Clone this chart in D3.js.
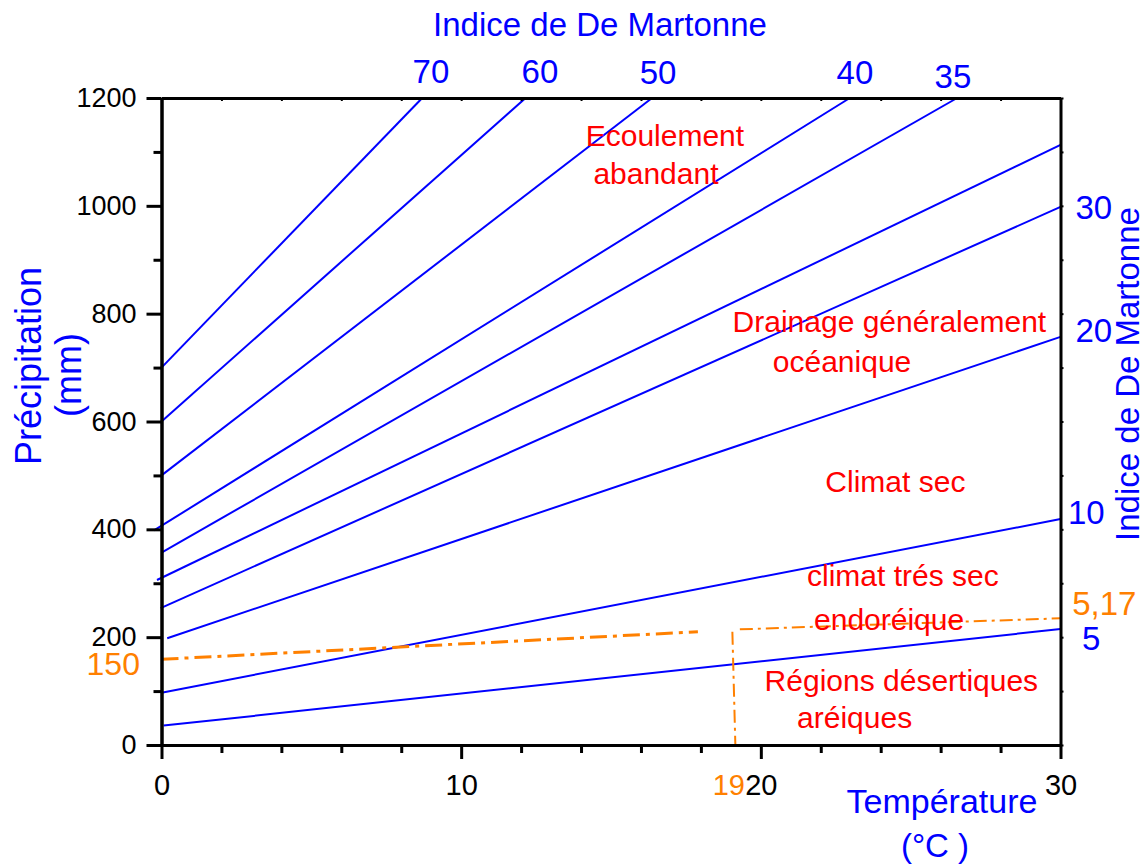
<!DOCTYPE html>
<html>
<head>
<meta charset="utf-8">
<script src="https://cdn.jsdelivr.net/npm/d3@7"></script>
<style>
  body { margin: 0; background: #fff; }
  svg text { font-family: "Liberation Sans", Arial, sans-serif; }
</style>
</head>
<body>
<div id="chart"></div>
<script>
// De Martonne iso-index lines (T in °C, P in mm)
const lineStartT = [0, 0, 0, -0.25, 0, -0.15, -0.03, 0.19, 0, 0.07];
const lineStartP = [700, 600, 500, 398, 357, 306, 254, 198, 97, 36];
const lineEndT = [8.70, 12.15, 16.37, 22.97, 26.55, 30, 30, 30, 30, 30];
const lineEndP = [1200, 1200, 1200, 1200, 1200, 1113, 998, 757, 419, 215];

// labels of the lines
const topLabels = ["70", "60", "50", "40", "35"];
const rightLabels = ["30", "20", "10", "5"];

// orange threshold (dash-dot)
const leftThreshT = [0, 17.9];
const leftThreshP = [159, 210];
const vertThreshT = [19.05, 19.15];
const vertThreshP = [210, 0];
const rightThreshT = [19.3, 30];
const rightThreshP = [214.5, 235];
const threshLabels = ["150", "19", "5,17"];

// zone names
const zoneLabels = [
  "Ecoulement", "abandant",
  "Drainage généralement", "océanique",
  "Climat sec",
  "climat trés sec", "endoréique",
  "Régions désertiques", "aréiques"
];

// axis ticks
const xMajor = [0, 10, 20, 30];
const xMinor = [2, 4, 6, 8, 12, 14, 16, 18, 22, 24, 26, 28];
const yMajor = [0, 200, 400, 600, 800, 1000, 1200];
const yMinor = [100, 300, 500, 700, 900, 1100];

const width = 1145, height = 865;
const blue = "#0000ff", red = "#ff0000", orange = "#ff8000";

const x = d3.scaleLinear().domain([0, 30]).range([161.5, 1060.5]);
const y = d3.scaleLinear().domain([0, 1200]).range([745, 98]);

const svg = d3.select("#chart").append("svg")
  .attr("width", width)
  .attr("height", height);

// iso-index lines
const isoLines = lineStartT.map((t, i) => [[t, lineStartP[i]], [lineEndT[i], lineEndP[i]]]);
const line = d3.line().x(d => x(d[0])).y(d => y(d[1]));

svg.append("g")
  .selectAll("path")
  .data(isoLines)
  .join("path")
  .attr("d", line)
  .attr("fill", "none")
  .attr("stroke", blue)
  .attr("stroke-width", 2);

// threshold lines
const thresholds = [
  { pts: leftThreshT.map((t, i) => [t, leftThreshP[i]]), w: 3, dash: "17,6,4,6" },
  { pts: vertThreshT.map((t, i) => [t, vertThreshP[i]]), w: 2, dash: "13,5,3,5" },
  { pts: rightThreshT.map((t, i) => [t, rightThreshP[i]]), w: 2, dash: "13,5,3,5" }
];
svg.append("g")
  .selectAll("path")
  .data(thresholds)
  .join("path")
  .attr("d", d => line(d.pts))
  .attr("fill", "none")
  .attr("stroke", orange)
  .attr("stroke-width", d => d.w)
  .attr("stroke-dasharray", d => d.dash);

// axes
const styleAxis = (g, size) => {
  g.select(".domain").attr("stroke", "#000").attr("stroke-width", 3);
  g.selectAll(".tick line").attr("stroke", "#000").attr("stroke-width", 3);
  g.selectAll(".tick text").attr("fill", "#000").attr("font-size", size || 27)
    .attr("font-family", "Liberation Sans, Arial, sans-serif");
};

svg.append("g")
  .attr("transform", `translate(0,${y(0)})`)
  .call(d3.axisBottom(x).tickValues(xMajor).tickSize(14).tickPadding(15).tickFormat(d3.format("d")).tickSizeOuter(0))
  .call(styleAxis, 29);
svg.append("g")
  .attr("transform", `translate(0,${y(0)})`)
  .call(d3.axisBottom(x).tickValues(xMinor).tickSize(8).tickFormat("").tickSizeOuter(0))
  .call(styleAxis);

svg.append("g")
  .attr("transform", `translate(${x(0)},0)`)
  .call(d3.axisLeft(y).tickValues(yMajor).tickSize(15).tickPadding(10).tickFormat(d3.format("d")).tickSizeOuter(0))
  .call(styleAxis, 27);
svg.append("g")
  .attr("transform", `translate(${x(0)},0)`)
  .call(d3.axisLeft(y).tickValues(yMinor).tickSize(8).tickFormat("").tickSizeOuter(0))
  .call(styleAxis);

// mirror axes (top / right) with small ticks
svg.append("g")
  .attr("transform", `translate(0,${y(1200)})`)
  .call(d3.axisBottom(x).tickValues(xMinor.concat(xMajor)).tickSize(3).tickFormat("").tickSizeOuter(0))
  .call(styleAxis)
  .call(g => g.selectAll(".tick line").attr("stroke-width", 2));
svg.append("g")
  .attr("transform", `translate(${x(30)},0)`)
  .call(d3.axisRight(y).tickValues(yMajor.concat(yMinor)).tickSize(3).tickFormat("").tickSizeOuter(0))
  .call(styleAxis)
  .call(g => g.selectAll(".tick line").attr("stroke-width", 2));

// top index labels (position in data units)
const topPos = [[8.99, 1228], [12.63, 1228], [16.57, 1226], [23.14, 1226], [26.41, 1218]];
svg.append("g")
  .selectAll("text")
  .data(topLabels)
  .join("text")
  .attr("x", (d, i) => x(topPos[i][0]))
  .attr("y", (d, i) => y(topPos[i][1]))
  .attr("text-anchor", "middle")
  .attr("font-size", 33)
  .attr("fill", blue)
  .text(d => d);

// right index labels
const rightPos = [[30.5, 975], [30.5, 747], [30.25, 410], [30.72, 177]];
svg.append("g")
  .selectAll("text")
  .data(rightLabels)
  .join("text")
  .attr("x", (d, i) => x(rightPos[i][0]))
  .attr("y", (d, i) => y(rightPos[i][1]))
  .attr("text-anchor", "start")
  .attr("font-size", 33)
  .attr("fill", blue)
  .text(d => d);

// threshold labels
const threshPos = [
  { t: -0.72, p: 129, anchor: "end", size: 32 },
  { t: 19.47, p: -93, anchor: "end", size: 29 },
  { t: 30.39, p: 241, anchor: "start", size: 33 }
];
svg.append("g")
  .selectAll("text")
  .data(threshLabels)
  .join("text")
  .attr("x", (d, i) => x(threshPos[i].t))
  .attr("y", (d, i) => y(threshPos[i].p))
  .attr("text-anchor", (d, i) => threshPos[i].anchor)
  .attr("font-size", (d, i) => threshPos[i].size)
  .attr("fill", orange)
  .text(d => d);

// zone names
const zonePos = [
  [16.80, 1111], [16.50, 1040],
  [24.29, 766], [22.71, 692],
  [24.49, 469],
  [24.74, 295], [24.28, 213],
  [24.69, 100], [23.13, 32]
];
svg.append("g")
  .selectAll("text")
  .data(zoneLabels)
  .join("text")
  .attr("x", (d, i) => x(zonePos[i][0]))
  .attr("y", (d, i) => y(zonePos[i][1]))
  .attr("text-anchor", "middle")
  .attr("font-size", 30)
  .attr("fill", red)
  .text(d => d);

// axis titles
svg.append("text")
  .attr("x", 600).attr("y", 36)
  .attr("text-anchor", "middle")
  .attr("font-size", 33).attr("fill", blue)
  .text("Indice de De Martonne");

svg.append("text")
  .attr("transform", "translate(1139,374) rotate(-90)")
  .attr("text-anchor", "middle")
  .attr("font-size", 33).attr("fill", blue)
  .text("Indice de De Martonne");

svg.append("text")
  .attr("transform", "translate(41,366) rotate(-90)")
  .attr("text-anchor", "middle")
  .attr("font-size", 36).attr("fill", blue)
  .text("Précipitation");
svg.append("text")
  .attr("transform", "translate(81,375) rotate(-90)")
  .attr("text-anchor", "middle")
  .attr("font-size", 36).attr("fill", blue)
  .text("(mm)");

svg.append("text")
  .attr("x", 942).attr("y", 813)
  .attr("text-anchor", "middle")
  .attr("font-size", 34).attr("fill", blue)
  .text("Température");
svg.append("text")
  .attr("x", 935).attr("y", 857)
  .attr("text-anchor", "middle")
  .attr("font-size", 33).attr("fill", blue)
  .text("(°C )");
</script>
</body>
</html>
